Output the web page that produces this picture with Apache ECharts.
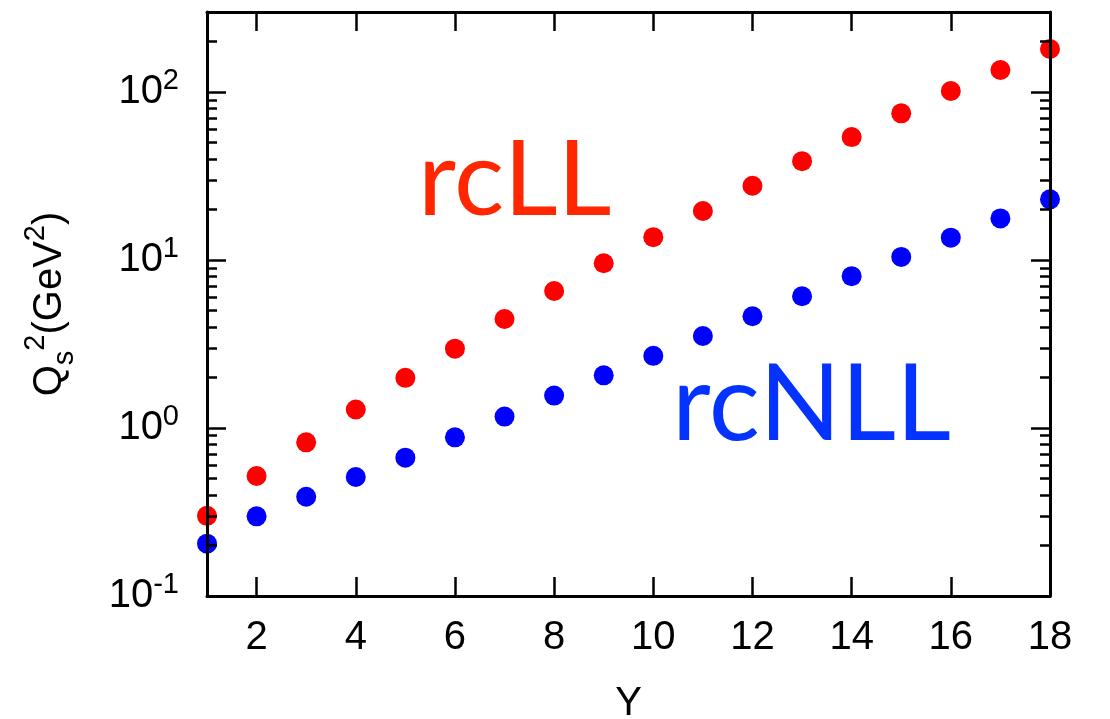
<!DOCTYPE html>
<html>
<head>
<meta charset="utf-8">
<script src="https://cdn.jsdelivr.net/npm/echarts@6/dist/echarts.min.js"></script>
<style>
  html, body { margin: 0; padding: 0; background: #fff; }
  #chart { width: 1110px; height: 719px; }
</style>
</head>
<body>
<div id="chart"></div>
<script>
// Rapidity values
const rapidity = [1, 2, 3, 4, 5, 6, 7, 8, 9, 10, 11, 12, 13, 14, 15, 16, 17, 18];
// Saturation scale Q_s^2 (GeV^2), running-coupling leading log
const rcLL = [0.30, 0.518, 0.822, 1.29, 1.99, 2.97, 4.46, 6.55, 9.58, 13.7, 19.6, 27.7, 38.8, 54.0, 74.8, 101.6, 135.5, 180.6];
// Saturation scale Q_s^2 (GeV^2), running-coupling next-to-leading log
const rcNLL = [0.205, 0.298, 0.390, 0.511, 0.666, 0.88, 1.17, 1.56, 2.06, 2.69, 3.53, 4.63, 6.09, 8.02, 10.45, 13.6, 17.7, 23.0];

// Tick positions
const xTicks = [2, 4, 6, 8, 10, 12, 14, 16, 18];
const yMajorTicks = [0.1, 1, 10, 100];
const yMinorTicks = [0.2, 0.3, 0.4, 0.5, 0.6, 0.7, 0.8, 0.9,
                     2, 3, 4, 5, 6, 7, 8, 9,
                     20, 30, 40, 50, 60, 70, 80, 90,
                     200];
const xRange = [1, 18];
const yRange = [0.1, 300];

const AXIS_FONT = '"Liberation Sans", Arial, Helvetica, sans-serif';
const LABEL_FONT = 'Lato, "Open Sans", sans-serif';

const lineStyle = { color: '#000', width: 3 };

function xAxisDef(pos, showLabels) {
  return {
    type: 'value', position: pos, min: xRange[0], max: xRange[1],
    z: 10,
    axisLine: { show: true, onZero: false, lineStyle },
    axisTick: { show: true, inside: true, length: 19, customValues: xTicks,
                lineStyle: { color: '#000', width: 2.5 } },
    axisLabel: { show: showLabels, customValues: xTicks, margin: 22,
                 fontFamily: AXIS_FONT, fontSize: 40, color: '#000' },
    splitLine: { show: false },
    name: showLabels ? 'Y' : '',
    nameLocation: 'middle', nameGap: 88,
    nameTextStyle: { fontFamily: AXIS_FONT, fontSize: 40, color: '#000' }
  };
}

function yAxisDef(pos, ticks, len, showLine, showLabels) {
  const def = {
    type: 'log', logBase: 10, position: pos, min: yRange[0], max: yRange[1],
    z: 10,
    axisLine: { show: showLine, lineStyle },
    axisTick: { show: true, inside: true, length: len, customValues: ticks,
                lineStyle: { color: '#000', width: 2.5 } },
    axisLabel: { show: false },
    splitLine: { show: false }
  };
  if (showLabels) {
    def.axisLabel = {
      show: true, customValues: yMajorTicks, margin: 28,
      formatter: v => '{b|10}{s|' + Math.round(Math.log10(v)) + '}',
      rich: {
        b: { fontFamily: AXIS_FONT, fontSize: 40, lineHeight: 52, color: '#000', verticalAlign: 'middle' },
        s: { fontFamily: AXIS_FONT, fontSize: 29, lineHeight: 29, color: '#000', verticalAlign: 'top' }
      }
    };
    def.name = '{m|Q}{sub|s}{sup|2}{m|(GeV}{sup|2}{m|)}';
    def.nameLocation = 'middle';
    def.nameRotate = 90;
    def.nameGap = 128;
    def.nameTextStyle = {
      rich: {
        m: { fontFamily: AXIS_FONT, fontSize: 40, lineHeight: 58, color: '#000', verticalAlign: 'middle' },
        sup: { fontFamily: AXIS_FONT, fontSize: 29, lineHeight: 29, color: '#000', verticalAlign: 'top' },
        sub: { fontFamily: AXIS_FONT, fontSize: 29, lineHeight: 29, color: '#000', verticalAlign: 'bottom' }
      }
    };
  }
  return def;
}

const chart = echarts.init(document.getElementById('chart'), null, { renderer: 'canvas' });

chart.setOption({
  animation: false,
  backgroundColor: '#fff',
  grid: { left: 207, right: 60, top: 12, bottom: 123, containLabel: false, outerBoundsMode: 'none' },
  xAxis: [xAxisDef('bottom', true), xAxisDef('top', false)],
  yAxis: [
    yAxisDef('left', yMajorTicks, 19, true, true),
    yAxisDef('left', yMinorTicks, 10, false, false),
    yAxisDef('right', yMajorTicks, 19, true, false),
    yAxisDef('right', yMinorTicks, 10, false, false)
  ],
  series: [
    {
      name: 'rcLL', type: 'scatter', xAxisIndex: 0, yAxisIndex: 0,
      symbol: 'circle', symbolSize: 20, clip: false,
      itemStyle: { color: '#ff0000', opacity: 1 },
      data: rapidity.map((y, i) => [y, rcLL[i]])
    },
    {
      name: 'rcNLL', type: 'scatter', xAxisIndex: 0, yAxisIndex: 0,
      symbol: 'circle', symbolSize: 20, clip: false,
      itemStyle: { color: '#0000ff', opacity: 1 },
      data: rapidity.map((y, i) => [y, rcNLL[i]])
    }
  ],
  graphic: [
    {
      type: 'text', x: 418, y: 181, z: 20,
      style: { text: 'rcLL', fill: '#ff2600', font: '105px ' + LABEL_FONT,
               textAlign: 'left', textVerticalAlign: 'middle', verticalAlign: 'middle' }
    },
    {
      type: 'text', x: 672, y: 405, z: 20,
      style: { text: 'rcNLL', fill: '#0433ff', font: '107px ' + LABEL_FONT,
               textAlign: 'left', textVerticalAlign: 'middle', verticalAlign: 'middle' }
    }
  ]
});
</script>
</body>
</html>
